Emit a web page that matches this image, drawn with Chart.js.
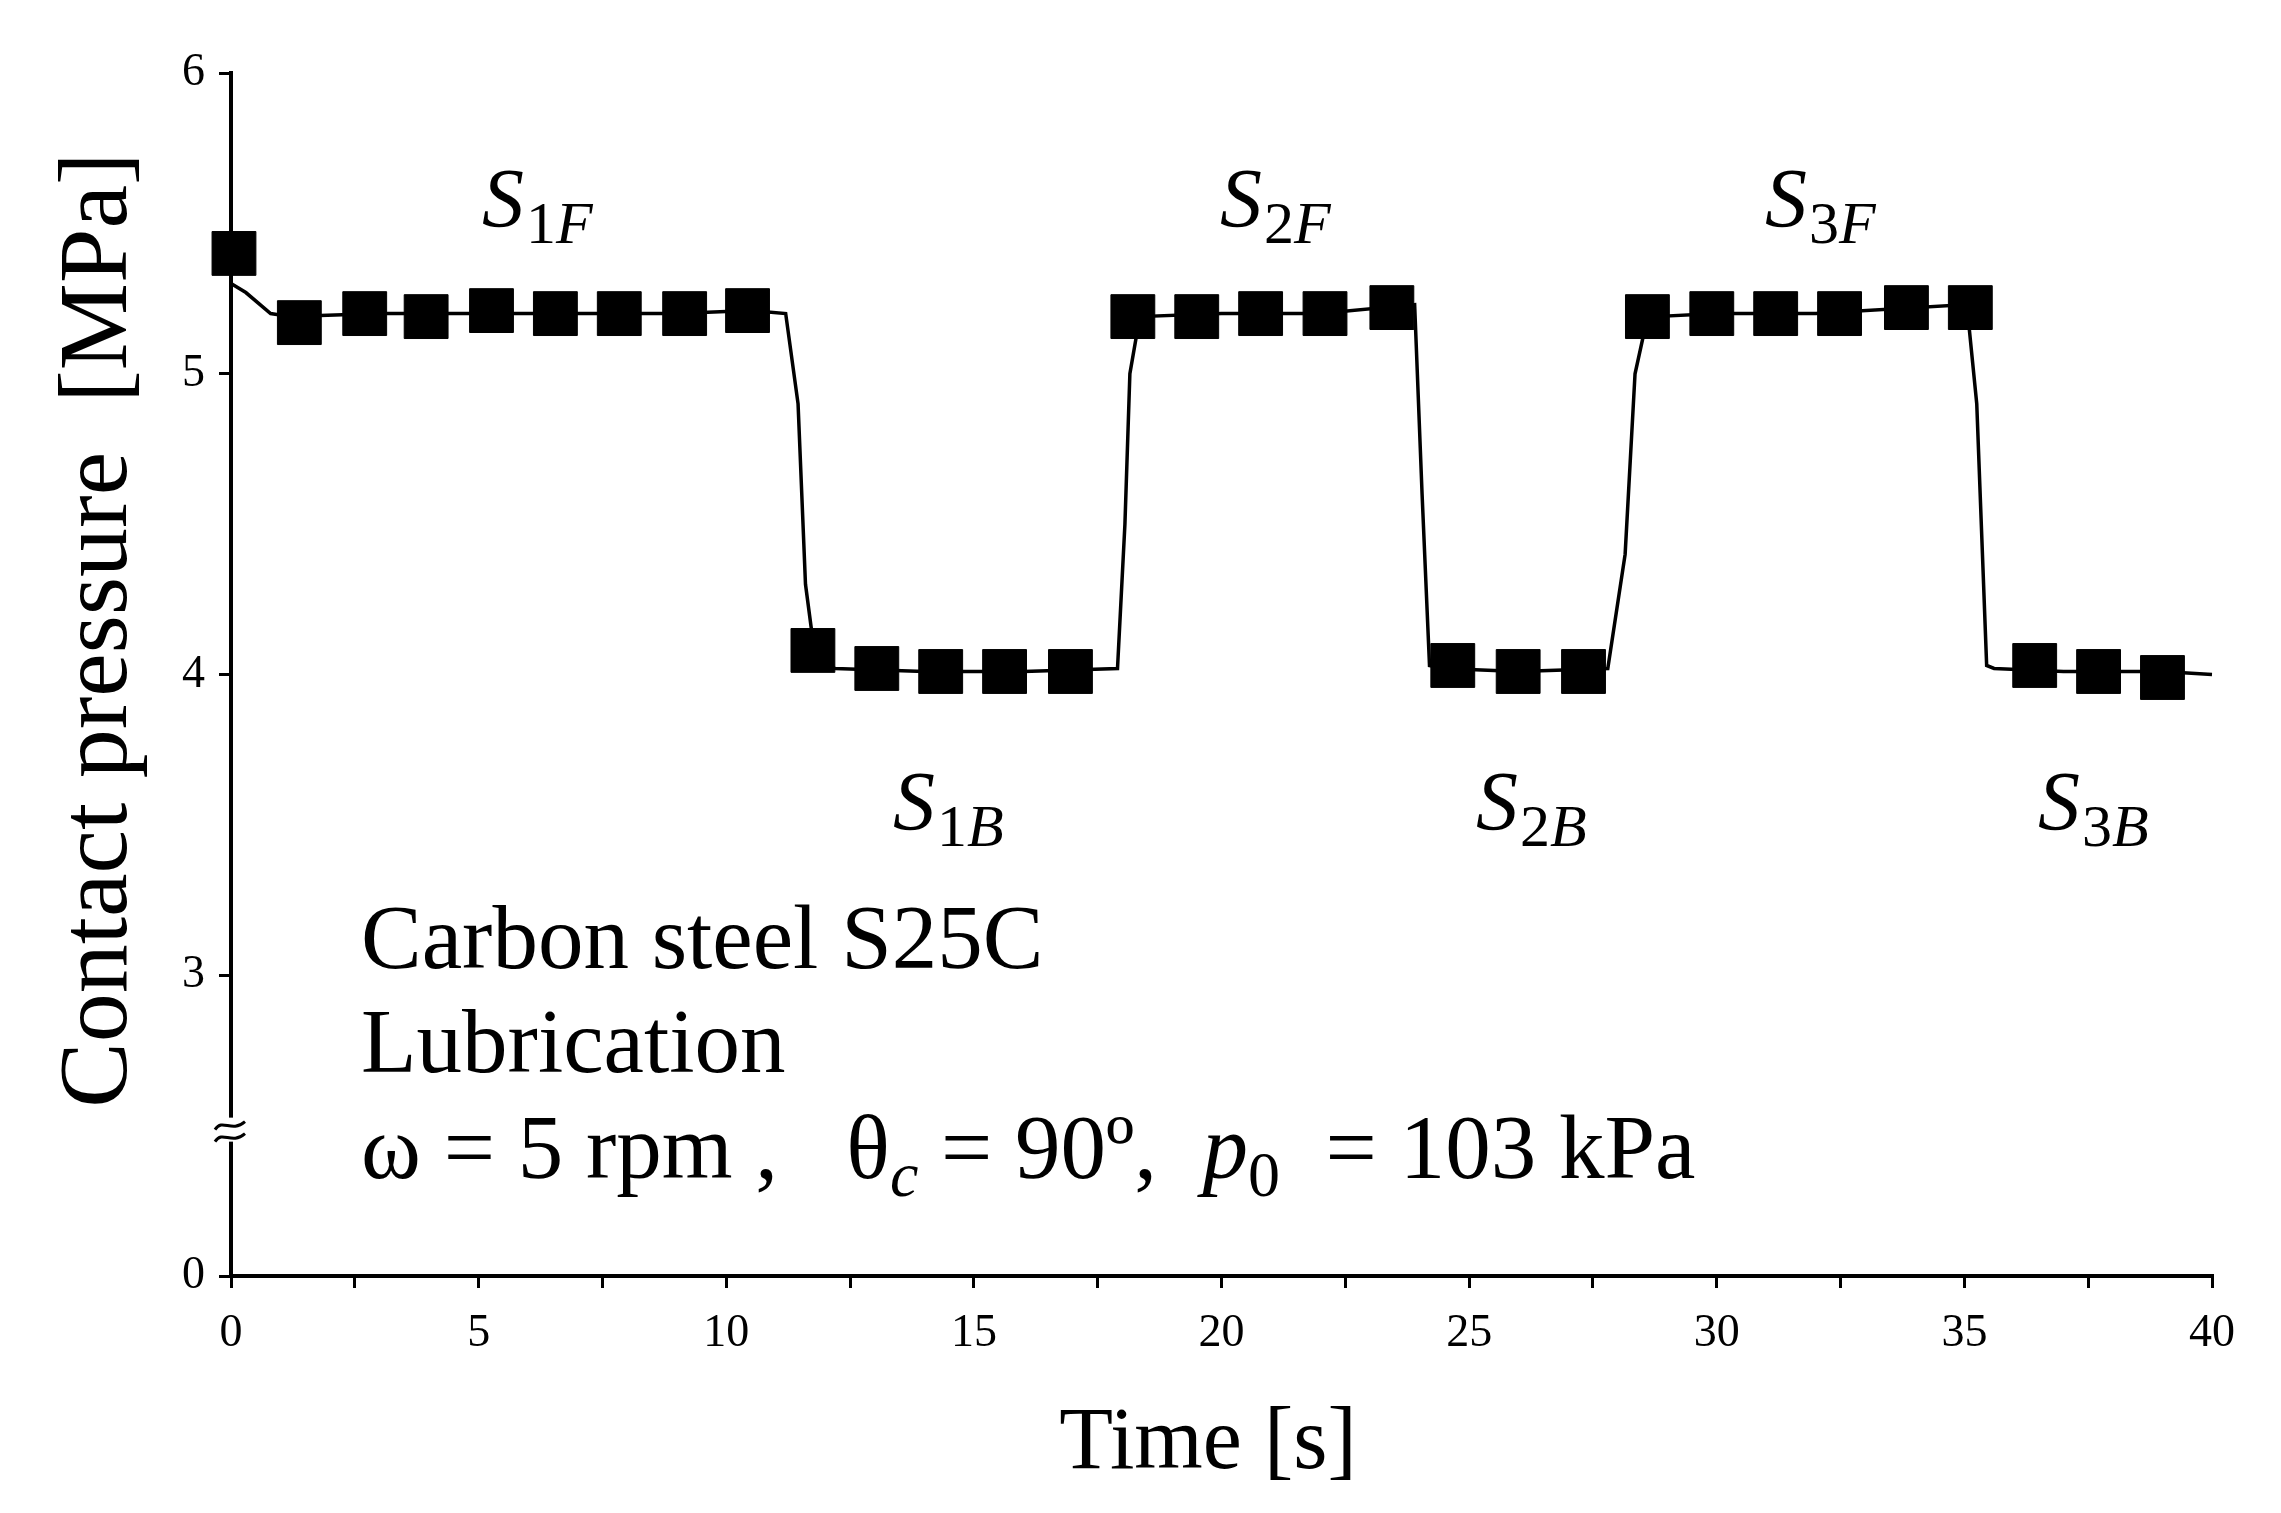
<!DOCTYPE html>
<html><head><meta charset="utf-8">
<script src="https://cdn.jsdelivr.net/npm/chart.js@4"></script>
<style>html,body{margin:0;padding:0;background:#fff}#w{width:2281px;height:1513px}</style>
</head><body><div id="w"><canvas id="c"></canvas></div>
<script>
// Trace (time s, pressure MPa)
const lineTime = [0,0.3,0.8,1.2,3,5,7,9,10.5,11.2,11.45,11.6,11.8,12.2,14,16,17.9,18.05,18.15,18.35,20,22,23.9,24.05,24.2,24.5,26,27.8,28.15,28.35,28.55,28.75,30,32,35.05,35.25,35.45,35.6,37,39,40];
const linePressure = [5.3,5.27,5.2,5.19,5.2,5.2,5.2,5.2,5.21,5.2,4.9,4.3,4.05,4.02,4.01,4.01,4.02,4.5,5.0,5.19,5.2,5.2,5.23,4.6,4.03,4.02,4.01,4.02,4.4,5.0,5.15,5.19,5.2,5.2,5.23,4.9,4.03,4.02,4.01,4.01,4.0];
const markerTime = [0.06,1.38,2.7,3.94,5.26,6.55,7.84,9.16,10.43,11.75,13.04,14.33,15.62,16.95,18.21,19.5,20.79,22.09,23.44,24.67,25.99,27.31,28.6,29.9,31.19,32.48,33.83,35.12,36.42,37.71,39.0];
const markerPressure = [5.4,5.17,5.2,5.19,5.21,5.2,5.2,5.2,5.21,4.08,4.02,4.01,4.01,4.01,5.19,5.19,5.2,5.2,5.22,4.03,4.01,4.01,5.19,5.2,5.2,5.2,5.22,5.22,4.03,4.01,3.99];
const yTickValues = [2,3,4,5,6];
const yTickLabels = ['0','3','4','5','6'];
// broken axis: real value v>=3 plotted as v; 0 plotted at 2
const stateLabels = [['S','1','F',482,227],['S','2','F',1220,227],['S','3','F',1765,227],['S','1','B',893,830],['S','2','B',1476,830],['S','3','B',2038,830]];

const toXY = (xs,ys)=>xs.map((x,i)=>({x,y:ys[i]}));
const annot = {
  id:'annot',
  afterDraw(ch){
    const c=ch.ctx; c.save(); c.fillStyle='#000';
    c.textBaseline='alphabetic'; c.textAlign='left';
    for(const [s,n,l,x,y] of stateLabels){
      let xx=x;
      c.font='italic 84px "Liberation Serif"'; c.fillText(s,xx,y); xx+=c.measureText(s).width+2;
      c.font='60px "Liberation Serif"'; c.fillText(n,xx,y+16); xx+=c.measureText(n).width;
      c.font='italic 60px "Liberation Serif"'; c.fillText(l,xx,y+16);
    }
    c.font='91px "Liberation Serif"';
    c.fillText('Carbon steel S25C',361,968);
    c.fillText('Lubrication',361,1072);
    let x=361,y=1178;
    const seg=(t,f,dy=0)=>{c.font=f;c.fillText(t,x,y+dy);x+=c.measureText(t).width;};
    seg('ω = 5 rpm ,   θ','91px "Liberation Serif"');
    seg('c','italic 64px "Liberation Serif"',18);
    seg(' = 90º,  ','91px "Liberation Serif"');
    seg('p','italic 91px "Liberation Serif"');
    seg('0','64px "Liberation Serif"',18);
    seg('  = 103 kPa','91px "Liberation Serif"');
    // axis titles
    c.font='88px "Liberation Serif"'; c.textAlign='center';
    c.fillText('Time [s]',1208,1468);
    c.font='98px "Liberation Serif"';
    c.save(); c.translate(126,630); c.rotate(-Math.PI/2); c.fillText('Contact pressure  [MPa]',0,0); c.restore();
    // break mark
    const ya=ch.scales.y, xa=ch.scales.x;
    const by=ya.getPixelForValue(2.48), bx=xa.left;
    c.fillStyle='#fff'; c.fillRect(bx-14,by-14,28,24);
    c.strokeStyle='#000'; c.lineWidth=3;
    for(const d of [-6,6]){c.beginPath();
      c.moveTo(bx-16,by+d+4);c.bezierCurveTo(bx-8,by+d-8,bx,by+d+8,bx+14,by+d-4);c.stroke();}
    c.restore();
  }
};
new Chart(document.getElementById('c'),{
  type:'scatter',
  data:{datasets:[
    {data:toXY(lineTime,linePressure),showLine:true,borderColor:'#000',borderWidth:3.5,pointRadius:0,tension:0,clip:false},
    {data:toXY(markerTime,markerPressure),showLine:false,pointStyle:'rect',pointRadius:31,backgroundColor:'#000',borderColor:'#000',clip:false}
  ]},
  options:{
    responsive:true,maintainAspectRatio:false,animation:false,
    layout:{padding:{left:0,right:69,top:73,bottom:0}},
    plugins:{legend:{display:false},tooltip:{enabled:false}},
    scales:{
      x:{type:'linear',min:0,max:40,
        afterFit(s){s.height=237;},
        afterBuildTicks(s){s.ticks=[];for(let v=0;v<=40;v+=2.5)s.ticks.push({value:v});},
        ticks:{callback:v=>v%5===0?String(v):'',color:'#000',font:{family:'Liberation Serif',size:46},padding:18,maxRotation:0,autoSkip:false},
        grid:{drawOnChartArea:false,tickLength:12,color:'#000',lineWidth:3},
        border:{color:'#000',width:4}},
      y:{type:'linear',min:2,max:6,
        afterFit(s){s.width=231;},
        afterBuildTicks(s){s.ticks=yTickValues.map(v=>({value:v}));},
        ticks:{callback:(v)=>yTickLabels[yTickValues.indexOf(v)],color:'#000',font:{family:'Liberation Serif',size:46},padding:14},
        grid:{drawOnChartArea:false,tickLength:12,color:'#000',lineWidth:3},
        border:{color:'#000',width:4}}
    }
  },
  plugins:[annot]
});
</script></body></html>
